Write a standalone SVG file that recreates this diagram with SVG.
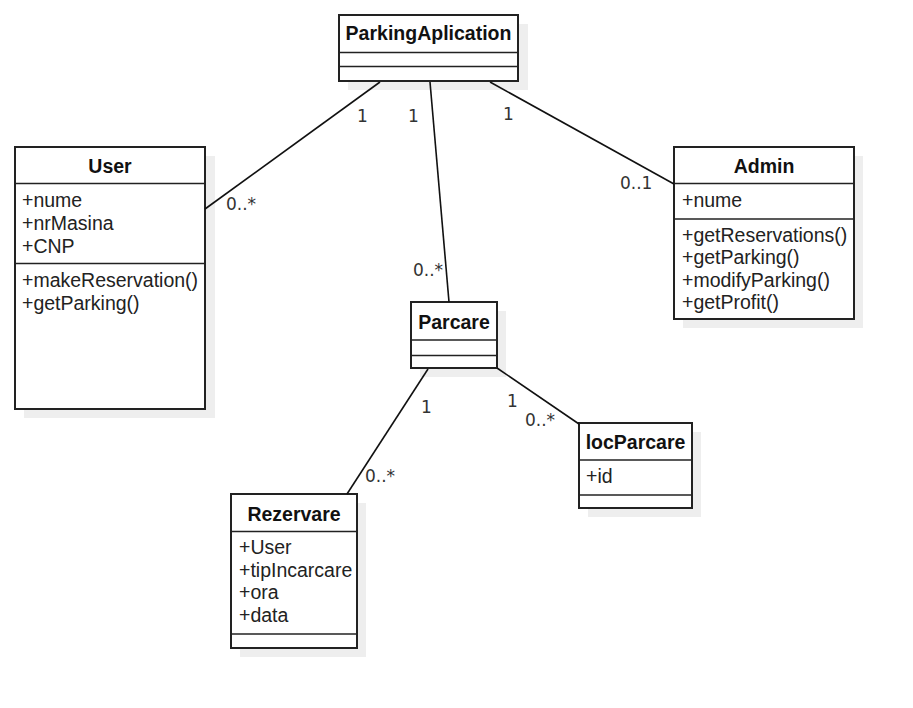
<svg xmlns="http://www.w3.org/2000/svg" width="913" height="708" viewBox="0 0 913 708">
  <style>
    .shadow { fill: #eeeeee; stroke: none; }
    .box { fill: #ffffff; stroke: #222222; stroke-width: 2; }
    .div { stroke: #222222; stroke-width: 1.6; fill: none; }
    .title { font-family: "Liberation Sans", Arial, sans-serif; font-size: 19.5px; font-weight: bold; fill: #111111; text-anchor: middle; }
    .member { font-family: "Liberation Sans", Arial, sans-serif; font-size: 19.5px; fill: #222222; }
    .edge { stroke: #111111; stroke-width: 1.6; fill: none; }
    .mult { font-family: "DejaVu Sans", sans-serif; font-size: 17px; fill: #333333; }
  </style>
  <rect width="913" height="708" fill="#ffffff"/>

  <!-- ParkingAplication -->
  <g id="ParkingAplication">
    <rect class="shadow" x="348" y="24" width="180" height="66"/>
    <rect class="box" x="339" y="15" width="179" height="66"/>
    <line class="div" x1="339" y1="52.5" x2="518" y2="52.5"/>
    <line class="div" x1="339" y1="66.5" x2="518" y2="66.5"/>
    <text class="title" x="428.5" y="40">ParkingAplication</text>
  </g>

  <!-- User -->
  <g id="User">
    <rect class="shadow" x="24" y="156" width="191" height="262"/>
    <rect class="box" x="15" y="147" width="190" height="262"/>
    <line class="div" x1="15" y1="183.5" x2="205" y2="183.5"/>
    <line class="div" x1="15" y1="263.5" x2="205" y2="263.5"/>
    <text class="title" x="110" y="173">User</text>
    <text class="member" x="22" y="206.5">+nume</text>
    <text class="member" x="22" y="229.5">+nrMasina</text>
    <text class="member" x="22" y="252.5">+CNP</text>
    <text class="member" x="22" y="286.5">+makeReservation()</text>
    <text class="member" x="22" y="309.5">+getParking()</text>
  </g>

  <!-- Admin -->
  <g id="Admin">
    <rect class="shadow" x="683" y="156" width="180" height="172"/>
    <rect class="box" x="674" y="147" width="180" height="172"/>
    <line class="div" x1="674" y1="183.5" x2="854" y2="183.5"/>
    <line class="div" x1="674" y1="219" x2="854" y2="219"/>
    <text class="title" x="764" y="173">Admin</text>
    <text class="member" x="682" y="206.5">+nume</text>
    <text class="member" x="682" y="241.5">+getReservations()</text>
    <text class="member" x="682" y="264">+getParking()</text>
    <text class="member" x="682" y="286.5">+modifyParking()</text>
    <text class="member" x="682" y="309">+getProfit()</text>
  </g>

  <!-- Parcare -->
  <g id="Parcare">
    <rect class="shadow" x="420" y="311" width="86" height="66"/>
    <rect class="box" x="411" y="302" width="86" height="66"/>
    <line class="div" x1="411" y1="340" x2="497" y2="340"/>
    <line class="div" x1="411" y1="355.5" x2="497" y2="355.5"/>
    <text class="title" x="454" y="329">Parcare</text>
  </g>

  <!-- locParcare -->
  <g id="locParcare">
    <rect class="shadow" x="588" y="432" width="113" height="85"/>
    <rect class="box" x="579" y="423" width="113" height="85"/>
    <line class="div" x1="579" y1="460" x2="692" y2="460"/>
    <line class="div" x1="579" y1="495" x2="692" y2="495"/>
    <text class="title" x="635.5" y="449">locParcare</text>
    <text class="member" x="586" y="482.5">+id</text>
  </g>

  <!-- Rezervare -->
  <g id="Rezervare">
    <rect class="shadow" x="240" y="503" width="126" height="154"/>
    <rect class="box" x="231" y="494" width="126" height="154"/>
    <line class="div" x1="231" y1="531.5" x2="357" y2="531.5"/>
    <line class="div" x1="231" y1="634" x2="357" y2="634"/>
    <text class="title" x="294" y="520.5">Rezervare</text>
    <text class="member" x="239" y="554">+User</text>
    <text class="member" x="239" y="576.5">+tipIncarcare</text>
    <text class="member" x="239" y="599">+ora</text>
    <text class="member" x="239" y="621.5">+data</text>
  </g>

  <!-- associations, drawn over the drop shadows -->
  <g id="connectors">
    <line class="edge" x1="380" y1="82" x2="205" y2="209"/>
    <line class="edge" x1="430" y1="82" x2="449" y2="302"/>
    <line class="edge" x1="490" y1="82" x2="674" y2="184"/>
    <line class="edge" x1="428" y1="369" x2="347" y2="494"/>
    <line class="edge" x1="497" y1="368" x2="579" y2="424"/>
    <text class="mult" x="357" y="122">1</text>
    <text class="mult" x="226" y="210">0..*</text>
    <text class="mult" x="408" y="122">1</text>
    <text class="mult" x="413" y="276">0..*</text>
    <text class="mult" x="503" y="120">1</text>
    <text class="mult" x="620" y="189">0..1</text>
    <text class="mult" x="421" y="413">1</text>
    <text class="mult" x="507" y="407">1</text>
    <text class="mult" x="525" y="426">0..*</text>
    <text class="mult" x="365" y="482">0..*</text>
  </g>
</svg>
